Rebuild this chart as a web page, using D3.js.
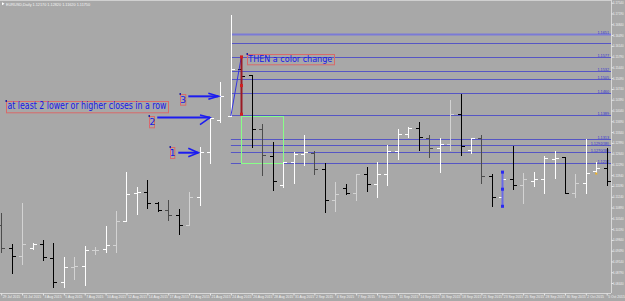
<!DOCTYPE html>
<html><head><meta charset="utf-8">
<script src="https://cdn.jsdelivr.net/npm/d3@7"></script>
<style>html,body{margin:0;padding:0;background:#a8a8a8;overflow:hidden}</style>
</head><body><svg id="c" width="625" height="301"></svg>
<script>
const symbolTitle = "EURUSD,Daily";
const dates = ["29 Jul 2015","30 Jul 2015","31 Jul 2015","2 Aug 2015","3 Aug 2015","4 Aug 2015","5 Aug 2015","6 Aug 2015","7 Aug 2015","9 Aug 2015",
"10 Aug 2015","11 Aug 2015","12 Aug 2015","13 Aug 2015","14 Aug 2015","16 Aug 2015","17 Aug 2015","18 Aug 2015","19 Aug 2015","20 Aug 2015",
"21 Aug 2015","23 Aug 2015","24 Aug 2015","25 Aug 2015","26 Aug 2015","27 Aug 2015","28 Aug 2015","30 Aug 2015","31 Aug 2015","1 Sep 2015",
"2 Sep 2015","3 Sep 2015","4 Sep 2015","6 Sep 2015","7 Sep 2015","8 Sep 2015","9 Sep 2015","10 Sep 2015","11 Sep 2015","13 Sep 2015",
"14 Sep 2015","15 Sep 2015","16 Sep 2015","17 Sep 2015","18 Sep 2015","20 Sep 2015","21 Sep 2015","22 Sep 2015","23 Sep 2015","24 Sep 2015",
"25 Sep 2015","27 Sep 2015","28 Sep 2015","29 Sep 2015","30 Sep 2015","1 Oct 2015","2 Oct 2015","4 Oct 2015","5 Oct 2015"];
const open  = [1.1032,1.0957,1.0931,1.0957,1.0970,1.0924,1.0846,1.0895,1.0898,1.0950,1.0954,1.0967,1.1045,1.1136,1.1139,1.1103,1.1080,1.1064,1.1032,1.1123,
1.1269,1.1373,1.1386,1.1539,1.1519,1.1344,1.1256,1.1162,1.1236,1.1262,1.1266,1.1214,1.1113,1.1152,1.1136,1.1197,1.1165,1.1197,1.1272,1.1327,
1.1347,1.1314,1.1282,1.1295,1.1392,1.1275,1.1314,1.1191,1.1123,1.1181,1.1162,1.1175,1.1181,1.1246,1.1253,1.1136,1.1168,1.1207,1.1217];
const high  = [1.1071,1.0970,1.1103,1.0973,1.0983,1.0973,1.0928,1.0928,1.0963,1.0960,1.1028,1.1077,1.1204,1.1155,1.1178,1.1106,1.1113,1.1084,1.1139,1.1285,
1.1383,1.1496,1.1714,1.1578,1.1519,1.1360,1.1301,1.1236,1.1269,1.1324,1.1272,1.1233,1.1171,1.1165,1.1197,1.1220,1.1236,1.1292,1.1344,1.1350,
1.1366,1.1324,1.1314,1.1438,1.1457,1.1314,1.1324,1.1197,1.1204,1.1288,1.1201,1.1204,1.1256,1.1272,1.1253,1.1197,1.1311,1.1236,1.1282];
const low   = [1.0944,1.0876,1.0905,1.0954,1.0918,1.0830,1.0830,1.0856,1.0837,1.0937,1.0944,1.0944,1.1045,1.1067,1.1087,1.1077,1.1048,1.1002,1.1032,1.1097,
1.1233,1.1366,1.1386,1.1392,1.1285,1.1194,1.1145,1.1155,1.1168,1.1227,1.1197,1.1074,1.1077,1.1132,1.1113,1.1142,1.1123,1.1162,1.1246,1.1318,
1.1275,1.1253,1.1204,1.1275,1.1259,1.1266,1.1168,1.1093,1.1093,1.1149,1.1103,1.1158,1.1136,1.1184,1.1136,1.1123,1.1136,1.1201,1.1162];
const close = [1.0957,1.0931,1.0970,1.0970,1.0928,1.0846,1.0895,1.0898,1.0950,1.0950,1.0967,1.1045,1.1132,1.1139,1.1103,1.1080,1.1064,1.1032,1.1123,1.1269,
1.1379,1.1451,1.1539,1.1516,1.1344,1.1259,1.1175,1.1236,1.1262,1.1269,1.1214,1.1113,1.1132,1.1136,1.1197,1.1165,1.1197,1.1272,1.1327,1.1347,
1.1318,1.1282,1.1295,1.1392,1.1288,1.1314,1.1191,1.1123,1.1181,1.1162,1.1181,1.1181,1.1249,1.1249,1.1136,1.1168,1.1201,1.1217,1.1175];
const barShade = ["D","B","L","W","B","B","W","L","W","L","W","L","W","W","B","B","D","B","L","W",
"W","W","W","B","B","D","B","W","W","W","D","B","L","B","L","B","W","W","W","W",
"B","D","W","L","B","W","D","B","W","B","L","W","W","W","B","L","W","W","B"];
const priceTicks = [1.1754,1.1719,1.1684,1.1649,1.1614,1.1579,1.1544,1.1509,1.1474,1.1439,1.1404,1.1369,1.1334,1.1299,
1.1264,1.1229,1.1194,1.1159,1.1124,1.1089,1.1054,1.1019,1.0984,1.0949,1.0914,1.0879,1.0844];
const levelPrices = [1.1651,1.1622,1.1577,1.1532,1.1505,1.1460,1.1389,1.1313,1.1292,1.1270,1.1232];
const levelLabels = ["1.1651","","1.1577","1.1532","1.1505","1.1460","1.1389","1.1313","1.1292(38)","1.1270(38)","1.1232"];
const levelStartBar = 22;
const annotText = [
  {txt:"at least 2 lower or higher closes in a row", i:0.46, p:1.1436, w:162, h:11.3, fs:10},
  {txt:"THEN a color change", i:23.52, p:1.1587, w:87, h:10.3, fs:9.5},
  {txt:"3", i:17.13, p:1.1456, w:5.3, h:10.7, fs:9},
  {txt:"2", i:14.19, p:1.1386, w:5, h:11.3, fs:9},
  {txt:"1", i:16.17, p:1.1286, w:4.3, h:11, fs:9}
];
const arrows = [
  {i0:17.92, i1:20.80, p:1.1450, up:3, dn:3},
  {i0:14.95, i1:20.00, p:1.1381, up:2.5, dn:7},
  {i0:16.96, i1:18.88, p:1.1267, up:4.4, dn:4}
];
const greenBox = {i0:23, i1:27, pTop:1.1386, pBot:1.1233};
const trendLine = {i0:22, p0:1.1386, i1:23, p1:1.1578};
const redVLine = {i:23, pTop:1.1578, pBot:1.1392};
const blueVLine = {i:48, pTop:1.1204, pBot:1.1093};
const yellowMark = {i:57, p:1.1201};

const shadeColor = {W:"#ffffff", L:"#d3d3d3", D:"#4c4c4c", B:"#000000"};
const W = 625, H = 301, plotRight = 611, plotBottom = 293;
const svg = d3.select("#c");
svg.append("rect").attr("width",W).attr("height",H).attr("fill","#a8a8a8");

const x = d3.scalePoint().domain(dates).range([1.2, 606.7]);
const xi = d3.scaleLinear().domain([0, dates.length-1]).range([1.2, 606.7]);
const y = d3.scaleLinear().domain([priceTicks[0], priceTicks[priceTicks.length-1]]).range([2.7, 283]);
const px = v => Math.round(v) + 0.5;

// frame
svg.append("line").attr("x1",0).attr("x2",plotRight).attr("y1",0.5).attr("y2",0.5).attr("stroke","#d0d0d0");
svg.append("line").attr("x1",0).attr("x2",plotRight).attr("y1",plotBottom+0.5).attr("y2",plotBottom+0.5).attr("stroke","#d8d8d8");
svg.append("line").attr("x1",plotRight+0.5).attr("x2",plotRight+0.5).attr("y1",0).attr("y2",plotBottom).attr("stroke","#d8d8d8");

// right price axis
const yAxis = d3.axisRight(y).tickValues(priceTicks).tickSize(2).tickFormat(d3.format(".5f"));
const ga = svg.append("g").attr("transform",`translate(${plotRight+0.5},0)`).call(yAxis);
ga.select(".domain").remove();
ga.selectAll("line").attr("stroke","#e8e8e8");
ga.selectAll("text").attr("fill","#f2f2f2").attr("font-size","3.1px").attr("font-family","Liberation Sans, Arial, sans-serif")
  .attr("x",1.5).attr("textLength",10.5).attr("lengthAdjust","spacingAndGlyphs");

// bottom date axis
const labelDates = dates.filter((d,i)=> i%2===0);
const xAxis = d3.axisBottom(x).tickValues(labelDates).tickSize(2);
const gx = svg.append("g").attr("transform",`translate(0,${plotBottom+0.5})`).call(xAxis);
gx.select(".domain").remove();
gx.selectAll("line").attr("stroke","#e8e8e8");
gx.selectAll("text").attr("fill","#f2f2f2").attr("font-size","3.4px").attr("font-family","Liberation Sans, Arial, sans-serif")
  .attr("text-anchor","start").attr("x",1).attr("y",2.2).attr("dy","0.71em");

// level lines
const lvl = svg.append("g");
levelPrices.forEach((p,k)=>{
  const yy = px(y(p));
  lvl.append("line").attr("x1",xi(levelStartBar)).attr("x2",plotRight).attr("y1",yy).attr("y2",yy)
    .attr("stroke", k===0 ? "#7a7ad6" : "#5656c4").attr("stroke-width", k===0 ? 2 : 1);
  if(levelLabels[k]) lvl.append("text").attr("x",609).attr("y",yy-1).attr("text-anchor","end")
    .attr("font-size","3.8px").attr("font-family","Liberation Sans, Arial, sans-serif").attr("fill","#3434d0").text(levelLabels[k]);
});

// green rectangle
svg.append("rect").attr("x",px(xi(greenBox.i0))).attr("y",px(y(greenBox.pTop)))
  .attr("width",Math.round(xi(greenBox.i1)-xi(greenBox.i0))).attr("height",Math.round(y(greenBox.pBot)-y(greenBox.pTop)))
  .attr("fill","none").attr("stroke","#88ff88").attr("stroke-width",1);

// bars
const gb = svg.append("g");
dates.forEach((d,i)=>{
  const c = shadeColor[barShade[i]];
  const xx = px(x(d));
  gb.append("line").attr("x1",xx).attr("x2",xx).attr("y1",Math.round(y(high[i]))).attr("y2",Math.round(y(low[i]))+1).attr("stroke",c);
  gb.append("line").attr("x1",xx-3.5).attr("x2",xx).attr("y1",px(y(open[i]))).attr("y2",px(y(open[i]))).attr("stroke",c);
  gb.append("line").attr("x1",xx).attr("x2",xx+3.5).attr("y1",px(y(close[i]))).attr("y2",px(y(close[i]))).attr("stroke",c);
});

// trend line + red vertical
svg.append("line").attr("x1",xi(trendLine.i0)).attr("y1",y(trendLine.p0)).attr("x2",xi(trendLine.i1)).attr("y2",y(trendLine.p1))
  .attr("stroke","#3535e0").attr("stroke-width",1);
svg.append("line").attr("x1",px(xi(redVLine.i))).attr("x2",px(xi(redVLine.i))).attr("y1",y(redVLine.pTop)).attr("y2",y(redVLine.pBot))
  .attr("stroke","#9a1a24").attr("stroke-width",2);
[redVLine.pTop,(redVLine.pTop+redVLine.pBot)/2,redVLine.pBot].forEach(p=>{
  svg.append("rect").attr("x",px(xi(redVLine.i))-1.5).attr("y",y(p)-1.5).attr("width",3).attr("height",3).attr("fill","#d02020");
});
// blue vertical
svg.append("line").attr("x1",px(xi(blueVLine.i))).attr("x2",px(xi(blueVLine.i))).attr("y1",y(blueVLine.pTop)).attr("y2",y(blueVLine.pBot))
  .attr("stroke","#6a6ae6").attr("stroke-width",2);
[blueVLine.pTop,(blueVLine.pTop+blueVLine.pBot)/2,blueVLine.pBot].forEach(p=>{
  svg.append("rect").attr("x",px(xi(blueVLine.i))-1.5).attr("y",y(p)-1.5).attr("width",3).attr("height",3).attr("fill","#2a2af0");
});
svg.append("rect").attr("x",xi(yellowMark.i)-1).attr("y",y(yellowMark.p)-0.5).attr("width",2).attr("height",2).attr("fill","#f0b020");

// arrows
arrows.forEach(a=>{
  const x0 = xi(a.i0), x1 = xi(a.i1), yy = y(a.p);
  svg.append("line").attr("x1",x0).attr("x2",x1).attr("y1",yy).attr("y2",yy).attr("stroke","#1c1cf0").attr("stroke-width",2);
  svg.append("path").attr("d",`M${x1-10},${yy-a.up}L${x1},${yy}L${x1-10},${yy+a.dn}`).attr("fill","none")
    .attr("stroke","#1c1cf0").attr("stroke-width",1.6);
});

// text objects
annotText.forEach(t=>{
  const x0 = xi(t.i), y0 = y(t.p);
  svg.append("rect").attr("x",Math.round(x0)+0.5).attr("y",Math.round(y0)+0.5).attr("width",t.w).attr("height",t.h)
    .attr("fill","none").attr("stroke","#d86a6a").attr("stroke-width",1);
  const tx = svg.append("text").attr("font-family","DejaVu Sans, Verdana, sans-serif").attr("font-size",t.fs+"px").attr("fill","#1616e8")
    .text(t.txt);
  if(t.txt.length>1){
    tx.attr("x",x0+1.5).attr("y",y0+t.h-2.6).attr("textLength",t.w-3).attr("lengthAdjust","spacingAndGlyphs");
  } else {
    tx.attr("x",x0+t.w/2+0.5).attr("y",y0+t.h-2.2).attr("text-anchor","middle");
  }
  svg.append("rect").attr("x",Math.round(x0)-0.5).attr("y",Math.round(y0)-1).attr("width",1.5).attr("height",2).attr("fill","#2020a0");
});

// title
svg.append("path").attr("d","M2,2.2L4.5,3.7L2,5.2Z").attr("fill","#ffffff");
const last = dates.length-1;
svg.append("text").attr("x",6).attr("y",5.6).attr("font-size","3.8px").attr("font-family","Liberation Sans, Arial, sans-serif").attr("fill","#f4f4f4")
  .text(`${symbolTitle}  ${open[last].toFixed(5)} ${high[last].toFixed(5)} ${low[last].toFixed(5)} ${close[last].toFixed(5)}`);
</script></body></html>
